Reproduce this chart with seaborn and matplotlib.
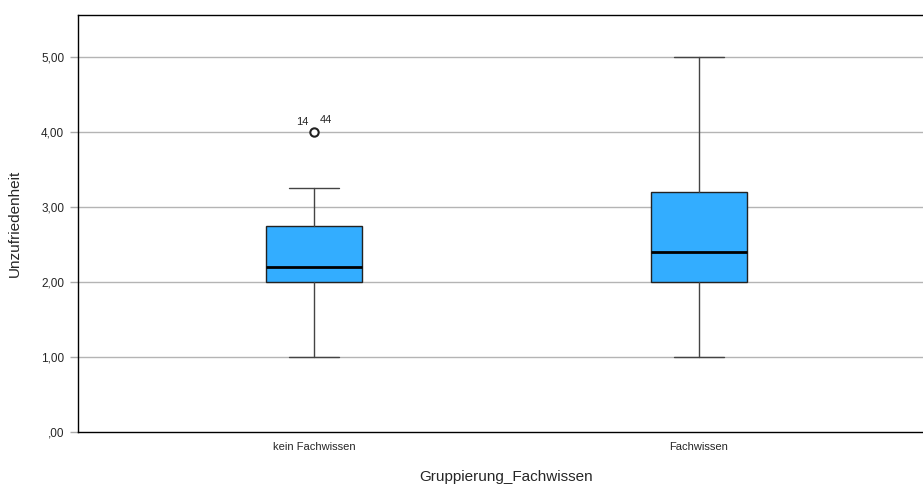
import matplotlib
matplotlib.use("Agg")
import matplotlib.pyplot as plt
import seaborn as sns

# Kennwerte je Gruppe
groups = ["kein Fachwissen", "Fachwissen"]
whisker_low = [1.00, 1.00]
q1 = [2.00, 2.00]
median = [2.20, 2.40]
q3 = [2.75, 3.20]
whisker_high = [3.25, 5.00]
outliers = [[4.00], []]
outlier_labels = [["14", "44"], []]

y_ticks = [0, 1, 2, 3, 4, 5]
y_tick_labels = [",00", "1,00", "2,00", "3,00", "4,00", "5,00"]

BOX_COLOR = "#33adff"

sns.set_style("white")
plt.rcParams["font.family"] = ["Liberation Sans", "DejaVu Sans"]

fig = plt.figure(figsize=(9.23, 4.86), dpi=100)
ax = fig.add_axes([78 / 923, 1 - 432 / 486, (935 - 78) / 923, (432 - 15) / 486])

stats = []
for i, name in enumerate(groups):
    stats.append({
        "label": name,
        "whislo": whisker_low[i],
        "q1": q1[i],
        "med": median[i],
        "q3": q3[i],
        "whishi": whisker_high[i],
        "fliers": outliers[i],
    })

positions = list(range(len(groups)))
ax.bxp(
    stats,
    positions=positions,
    widths=0.25,
    patch_artist=True,
    showfliers=True,
    boxprops=dict(facecolor=BOX_COLOR, edgecolor="#222222", linewidth=1.0),
    medianprops=dict(color="black", linewidth=2.0),
    whiskerprops=dict(color="#444444", linewidth=1.0),
    capprops=dict(color="#444444", linewidth=1.0),
    capwidths=0.13,
    flierprops=dict(marker="o", markersize=6, markerfacecolor="white",
                    markeredgecolor="#222222", markeredgewidth=1.5),
    zorder=3,
)

# Fallnummern der Ausreißer
for i, (vals, labs) in enumerate(zip(outliers, outlier_labels)):
    for v in vals:
        if len(labs) >= 1:
            ax.text(positions[i] - 0.03, v + 0.07, labs[0], ha="center", va="bottom", fontsize=8)
        if len(labs) >= 2:
            ax.text(positions[i] + 0.03, v + 0.09, labs[1], ha="center", va="bottom", fontsize=8)

ax.set_xlim(-0.613, 1.613)
ax.set_ylim(0, 5.56)
ax.set_yticks(y_ticks)
ax.set_yticklabels(y_tick_labels, fontsize=8.5)
ax.set_xticks(positions)
ax.set_xticklabels(groups, fontsize=8)
ax.tick_params(axis="y", left=True, direction="out", length=6, color="#aaaaaa", width=1, pad=4)
ax.tick_params(axis="x", bottom=False, length=0, pad=7)

for y in y_ticks[1:]:
    ax.axhline(y, color="#b4b4b4", linewidth=1.0, zorder=1)

for side in ["left", "bottom", "top", "right"]:
    ax.spines[side].set_color("black")
    ax.spines[side].set_linewidth(1.0)

ax.set_ylabel("Unzufriedenheit", fontsize=11, labelpad=14)
ax.set_xlabel("Gruppierung_Fachwissen", fontsize=11, labelpad=13)

fig.savefig("out.png", dpi=100)
